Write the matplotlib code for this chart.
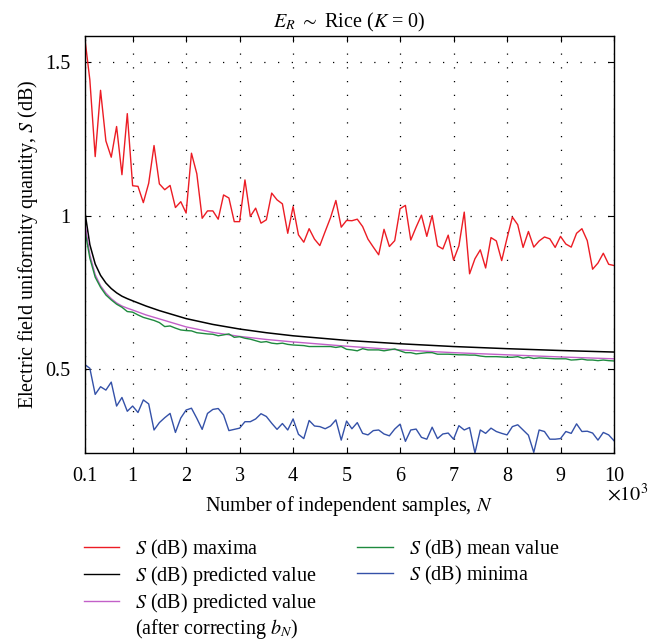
import numpy as np
import matplotlib
matplotlib.use("Agg")
import matplotlib.pyplot as plt
from matplotlib.lines import Line2D

plt.rcParams['font.family'] = 'serif'
plt.rcParams['font.serif'] = ['Liberation Serif', 'DejaVu Serif']
plt.rcParams['mathtext.fontset'] = 'stix'

FS = 14.5

# number of independent samples (100 ... 10000, step 100)
samples = np.arange(100, 10001, 100)

# S (dB) maxima
s_max = [1.587, 1.442, 1.192, 1.408, 1.243, 1.190, 1.290, 1.133, 1.332, 1.097,
         1.095, 1.042, 1.105, 1.228, 1.103, 1.084, 1.098, 1.026, 1.045, 1.008,
         1.203, 1.136, 0.991, 1.015, 1.015, 0.988, 1.067, 1.057, 0.980, 0.980,
         1.116, 0.997, 1.024, 0.975, 0.986, 1.073, 1.051, 1.038, 0.942, 1.029,
         0.937, 0.913, 0.957, 0.923, 0.902, 0.948, 0.993, 1.049, 0.962, 0.984,
         0.983, 0.988, 0.964, 0.923, 0.897, 0.872, 0.955, 0.899, 0.918, 1.022,
         1.033, 0.920, 0.962, 1.001, 0.932, 1.000, 0.901, 0.891, 0.936, 0.855,
         0.901, 1.011, 0.810, 0.859, 0.888, 0.829, 0.928, 0.917, 0.853, 0.926,
         0.995, 0.970, 0.896, 0.948, 0.897, 0.917, 0.930, 0.924, 0.896, 0.932,
         0.907, 0.897, 0.942, 0.957, 0.918, 0.825, 0.845, 0.877, 0.841, 0.837]

# S (dB) minima
s_min = [0.515, 0.502, 0.417, 0.442, 0.431, 0.457, 0.379, 0.407, 0.362, 0.379,
         0.358, 0.399, 0.386, 0.301, 0.325, 0.341, 0.355, 0.293, 0.340, 0.366,
         0.372, 0.339, 0.303, 0.355, 0.368, 0.371, 0.350, 0.299, 0.303, 0.307,
         0.328, 0.328, 0.337, 0.354, 0.345, 0.323, 0.303, 0.322, 0.301, 0.337,
         0.287, 0.273, 0.332, 0.314, 0.312, 0.305, 0.314, 0.334, 0.268, 0.330,
         0.305, 0.325, 0.290, 0.285, 0.299, 0.301, 0.288, 0.282, 0.304, 0.320,
         0.264, 0.301, 0.304, 0.277, 0.271, 0.310, 0.273, 0.288, 0.291, 0.271,
         0.315, 0.301, 0.309, 0.226, 0.301, 0.290, 0.307, 0.296, 0.290, 0.285,
         0.312, 0.318, 0.301, 0.284, 0.228, 0.301, 0.296, 0.271, 0.271, 0.273,
         0.296, 0.290, 0.321, 0.296, 0.297, 0.291, 0.268, 0.293, 0.285, 0.266]

# S (dB) mean value
s_mean = [0.959, 0.861, 0.799, 0.766, 0.741, 0.725, 0.711, 0.701, 0.687, 0.685,
          0.676, 0.668, 0.663, 0.658, 0.651, 0.638, 0.640, 0.633, 0.627, 0.625,
          0.624, 0.618, 0.616, 0.614, 0.613, 0.608, 0.611, 0.614, 0.603, 0.605,
          0.600, 0.597, 0.592, 0.587, 0.589, 0.584, 0.582, 0.584, 0.580, 0.578,
          0.577, 0.576, 0.573, 0.573, 0.573, 0.573, 0.573, 0.570, 0.573, 0.564,
          0.562, 0.559, 0.566, 0.562, 0.562, 0.562, 0.559, 0.562, 0.565, 0.559,
          0.553, 0.553, 0.549, 0.551, 0.553, 0.553, 0.548, 0.548, 0.548, 0.547,
          0.546, 0.546, 0.545, 0.545, 0.542, 0.540, 0.540, 0.540, 0.539, 0.538,
          0.538, 0.540, 0.535, 0.538, 0.534, 0.536, 0.535, 0.534, 0.533, 0.533,
          0.533, 0.529, 0.530, 0.532, 0.529, 0.529, 0.527, 0.529, 0.527, 0.526]

# predicted curves (smooth), read at selected N
pred_n = [100, 200, 300, 400, 500, 600, 700, 800, 900, 1000, 1250, 1500,
          2000, 2500, 3000, 3500, 4000, 5000, 6000, 7000, 8000, 9000, 10000]
s_pred = [1.020, 0.905, 0.842, 0.805, 0.780, 0.762, 0.748, 0.737, 0.729, 0.722,
          0.705, 0.690, 0.664, 0.645, 0.630, 0.618, 0.608, 0.593, 0.582, 0.573,
          0.566, 0.560, 0.555]
s_pred_corr = [0.984, 0.872, 0.807, 0.771, 0.747, 0.729, 0.715, 0.705, 0.698, 0.692,
               0.676, 0.663, 0.637, 0.619, 0.606, 0.596, 0.588, 0.574, 0.562, 0.553,
               0.546, 0.539, 0.533]

c_red = '#ec1c24'
c_black = '#000000'
c_mag = '#c260c8'
c_green = '#1e8a3e'
c_blue = '#3451a8'

fig = plt.figure(figsize=(6.7, 6.42), dpi=100)
ax = fig.add_axes([84.5 / 670, 1 - 453 / 642, (614 - 84.5) / 670, (453 - 36) / 642])

lw = 1.0
ax.plot(samples, s_max, color=c_red, lw=lw)
ax.plot(pred_n, s_pred, color=c_black, lw=lw * 1.1)
ax.plot(pred_n, s_pred_corr, color=c_mag, lw=lw)
ax.plot(samples, s_mean, color=c_green, lw=lw)
ax.plot(samples, s_min, color=c_blue, lw=lw)

ax.set_xlim(100, 10000)
ax.set_ylim(0.226, 1.585)
ax.set_xticks([100] + list(range(1000, 10001, 1000)))
ax.set_xticklabels(['0.1'] + [str(i) for i in range(1, 11)])
ax.set_yticks([0.5, 1.0, 1.5])
ax.set_yticklabels(['0.5', '1', '1.5'])

ax.grid(True, color='black', linestyle=(0, (1, 10)), linewidth=0.9)
ax.tick_params(direction='in', top=True, right=True, length=4, width=0.8,
               labelsize=FS, pad=10)
for sp in ax.spines.values():
    sp.set_linewidth(1.0)

ax.set_title(r"$E_R$ $\sim$ Rice ($K$ = 0)", fontsize=FS, pad=6)
ax.set_xlabel(r"Number of independent samples, $N$", fontsize=FS, labelpad=6)
ax.set_ylabel(r"Electric field uniformity quantity, $S$ (dB)", fontsize=FS, labelpad=4)
fig.text(607 / 670, 1 - 495 / 642, r"$\times10^3$", fontsize=FS, ha='left', va='center')

# legend: left column 4 rows (last one is a continuation line), right column 2
blank = Line2D([], [], color='none')
handles = [Line2D([], [], color=c_red, lw=lw),
           Line2D([], [], color=c_black, lw=lw),
           Line2D([], [], color=c_mag, lw=lw),
           blank,
           Line2D([], [], color=c_green, lw=lw),
           Line2D([], [], color=c_blue, lw=lw),
           blank, blank]
labels = [r"$S$ (dB) maxima", r"$S$ (dB) predicted value",
          r"$S$ (dB) predicted value", r"(after correcting $b_N$)",
          r"$S$ (dB) mean value", r"$S$ (dB) minima", "", ""]
fig.legend(handles, labels, ncol=2, loc='upper left',
           bbox_to_anchor=(84 / 670, 1 - 538 / 642), frameon=False,
           fontsize=FS, handlelength=1.75, handletextpad=0.8,
           columnspacing=2.0, labelspacing=0.14, borderpad=0, borderaxespad=0)

fig.savefig('out.png', dpi=100)
